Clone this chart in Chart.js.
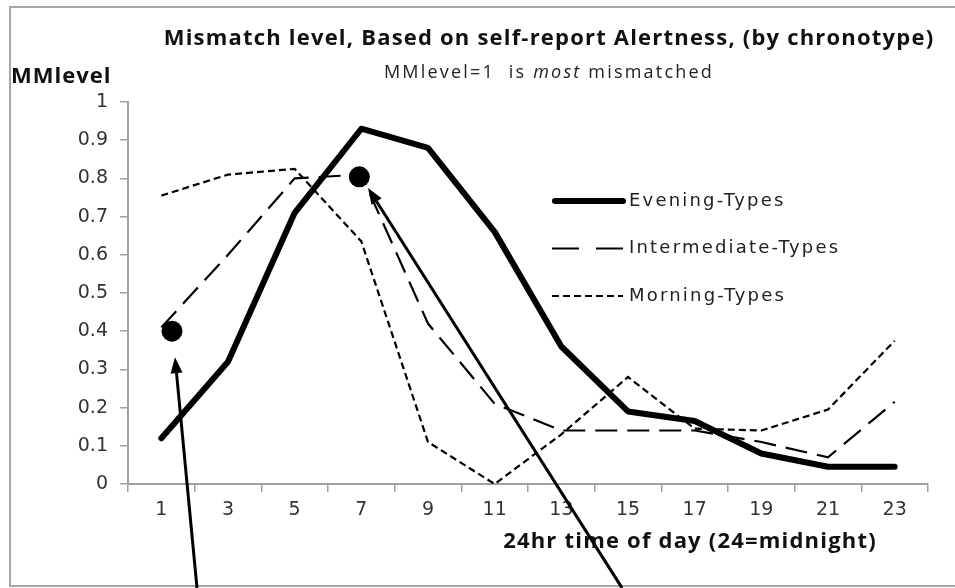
<!DOCTYPE html>
<html>
<head>
<meta charset="utf-8">
<script src="https://cdn.jsdelivr.net/npm/chart.js@4.4.1/dist/chart.umd.min.js"></script>
<style>
  html, body { margin: 0; padding: 0; background: #fff; }
</style>
</head>
<body>
<canvas id="myChart" width="955" height="588"></canvas>
<script>
// hours of the day (category axis)
const hours = ['1', '3', '5', '7', '9', '11', '13', '15', '17', '19', '21', '23'];
const evening = [0.12, 0.32, 0.71, 0.93, 0.88, 0.66, 0.36, 0.19, 0.165, 0.08, 0.045, 0.045];
const intermediate = [0.41, 0.60, 0.80, 0.81, 0.42, 0.21, 0.14, 0.14, 0.14, 0.11, 0.07, 0.215];
const morning = [0.755, 0.81, 0.825, 0.635, 0.11, 0.0, 0.13, 0.28, 0.145, 0.14, 0.195, 0.375];
const yTickLabels = ['0', '0.1', '0.2', '0.3', '0.4', '0.5', '0.6', '0.7', '0.8', '0.9', '1'];

// highlighted points (category index, value) and the arrows pointing at them
const markerX = [0.16, 2.97];
const markerY = [0.40, 0.804];
const arrowFrom = [[0.535, -0.272], [6.91, -0.272]];
const arrowTo = [[0.205, 0.332], [3.10, 0.775]];

const ctx = document.getElementById('myChart');
const tickFont = { family: 'DejaVu Sans', size: 19 };

const extras = {
  id: 'extras',
  afterDraw(chart) {
    const c = chart.ctx;
    const xs = chart.scales.x, ys = chart.scales.y;
    c.save();

    // outer frame
    c.strokeStyle = '#a6a6a6';
    c.lineWidth = 2;
    c.strokeRect(10, 7, 980, 579);

    // titles
    c.fillStyle = '#111';
    c.textBaseline = 'alphabetic';
    c.textAlign = 'center';
    c.font = 'bold 22px "Open Sans"';
    c.letterSpacing = '1.2px';
    c.fillText('Mismatch level, Based on self-report Alertness, (by chronotype)', 549, 45);

    // subtitle with italic word
    c.letterSpacing = '2.2px';
    const parts = [['MMlevel=1  is ', '18px "Open Sans"'], ['most', 'italic 18px "Open Sans"'], [' mismatched', '18px "Open Sans"']];
    let w = 0;
    parts.forEach(p => { c.font = p[1]; w += c.measureText(p[0]).width; });
    let x = 549 - w / 2;
    c.textAlign = 'left';
    c.fillStyle = '#222';
    parts.forEach(p => { c.font = p[1]; c.fillText(p[0], x, 78); x += c.measureText(p[0]).width; });

    c.fillStyle = '#111';
    c.font = 'bold 22px "Open Sans"';
    c.letterSpacing = '1px';
    c.fillText('MMlevel', 11, 83);
    c.textAlign = 'center';
    c.letterSpacing = '1.2px';
    c.fillText('24hr time of day (24=midnight)', 690, 548);
    c.letterSpacing = '0px';

    // legend
    const sets = chart.data.datasets.slice(0, 3);
    sets.forEach((ds, i) => {
      const y = 201 + i * 47.5;
      c.strokeStyle = '#000';
      c.lineWidth = ds.borderWidth;
      c.lineCap = i === 0 ? 'round' : 'butt';
      c.setLineDash(i === 1 ? [27, 17] : (ds.borderDash || []));
      c.beginPath();
      c.moveTo(i === 0 ? 555 : 552, y);
      c.lineTo(623, y);
      c.stroke();
      c.setLineDash([]);
      c.fillStyle = '#222';
      c.textAlign = 'left';
      c.textBaseline = 'middle';
      c.font = '18px "DejaVu Sans"';
      c.letterSpacing = '2.2px';
      c.fillText(ds.label, 629, y);
      c.letterSpacing = '0px';
    });

    // markers
    c.fillStyle = '#000';
    markerX.forEach((mx, i) => {
      c.beginPath();
      c.arc(xs.getPixelForValue(mx), ys.getPixelForValue(markerY[i]), 10.5, 0, Math.PI * 2);
      c.fill();
    });

    // arrows
    arrowFrom.forEach((f, i) => {
      const x1 = xs.getPixelForValue(f[0]), y1 = ys.getPixelForValue(f[1]);
      const x2 = xs.getPixelForValue(arrowTo[i][0]), y2 = ys.getPixelForValue(arrowTo[i][1]);
      const a = Math.atan2(y2 - y1, x2 - x1);
      const hl = 16, hw = 6;
      const bx = x2 - hl * Math.cos(a), by = y2 - hl * Math.sin(a);
      c.strokeStyle = '#000';
      c.lineWidth = 3;
      c.beginPath();
      c.moveTo(x1, y1);
      c.lineTo(bx, by);
      c.stroke();
      c.beginPath();
      c.moveTo(x2, y2);
      c.lineTo(bx + hw * Math.sin(a), by - hw * Math.cos(a));
      c.lineTo(bx - hw * Math.sin(a), by + hw * Math.cos(a));
      c.closePath();
      c.fill();
    });
    c.restore();
  }
};

new Chart(ctx, {
  type: 'line',
  data: {
    labels: hours,
    datasets: [
      { label: 'Evening-Types', data: evening, borderColor: '#000', borderWidth: 6, pointRadius: 0, borderJoinStyle: 'round', borderCapStyle: 'round' },
      { label: 'Intermediate-Types', data: intermediate, borderColor: '#000', borderWidth: 2.2, borderDash: [22, 10], pointRadius: 0 },
      { label: 'Morning-Types', data: morning, borderColor: '#000', borderWidth: 2.2, borderDash: [7, 4], pointRadius: 0 }
    ]
  },
  options: {
    responsive: false,
    animation: false,
    layout: { padding: { top: 102, right: 27, left: 0, bottom: 0 } },
    plugins: { legend: { display: false }, tooltip: { enabled: false } },
    scales: {
      x: {
        offset: true,
        grid: { offset: true, drawOnChartArea: false, tickLength: 8, color: '#a0a0a0', lineWidth: 1.5 },
        border: { color: '#a0a0a0', width: 2 },
        ticks: { font: tickFont, color: '#333', padding: 7, maxRotation: 0 },
        afterFit: s => { s.height = 104; }
      },
      y: {
        min: 0,
        max: 1,
        grid: { drawOnChartArea: false, tickLength: 8, color: '#a0a0a0', lineWidth: 1.5 },
        border: { color: '#a0a0a0', width: 2 },
        ticks: { stepSize: 0.1, font: tickFont, color: '#333', padding: 12, callback: (v, i) => yTickLabels[i] },
        afterFit: s => { s.width = 128; }
      }
    }
  },
  plugins: [extras]
});
</script>
</body>
</html>
